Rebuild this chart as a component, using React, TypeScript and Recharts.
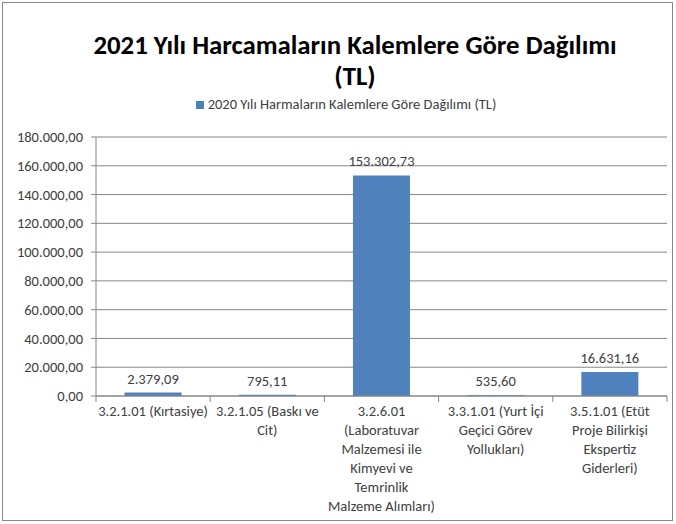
import React from "react";
import { BarChart, Bar, XAxis, YAxis, CartesianGrid, LabelList } from "recharts";

const categories: string[][] = [
  ["3.2.1.01 (Kırtasiye)"],
  ["3.2.1.05 (Baskı ve", "Cit)"],
  ["3.2.6.01", "(Laboratuvar", "Malzemesi ile", "Kimyevi ve", "Temrinlik", "Malzeme Alımları)"],
  ["3.3.1.01 (Yurt İçi", "Geçici Görev", "Yollukları)"],
  ["3.5.1.01 (Etüt", "Proje Bilirkişi", "Ekspertiz", "Giderleri)"],
];
const values: number[] = [2379.09, 795.11, 153302.73, 535.6, 16631.16];
const yTicks: number[] = [0, 20000, 40000, 60000, 80000, 100000, 120000, 140000, 160000, 180000];
const title = ["2021 Yılı Harcamaların Kalemlere Göre Dağılımı", "(TL)"];
const seriesName = "2020 Yılı Harmaların Kalemlere Göre Dağılımı (TL)";

const data = categories.map((c, i) => ({ key: String(i), lines: c, value: values[i] }));

const FONT = "Carlito, Calibri, Lato, sans-serif";
const W = 676;
const H = 524;
const LEFT = 96;
const RIGHT = 667;
const HALF_BAND = (RIGHT - LEFT) / categories.length / 2;

function fmt(v: number): string {
  const neg = v < 0;
  const abs = Math.abs(v);
  const fixed = abs.toFixed(2);
  const [intPart, dec] = fixed.split(".");
  const withDots = intPart.replace(/\B(?=(\d{3})+(?!\d))/g, ".");
  return (neg ? "-" : "") + withDots + "," + dec;
}

const CatTick = (props: any) => {
  const { x, y, payload, index } = props;
  const lines: string[] = data[Number(payload.value)]?.lines ?? [];
  return (
    <g>
      <line x1={x + HALF_BAND} y1={y - 8} x2={x + HALF_BAND} y2={y - 2} stroke="#868686" />
      {index === 0 && <line x1={x - HALF_BAND} y1={y - 8} x2={x - HALF_BAND} y2={y - 2} stroke="#868686" />}
      {lines.map((l, i) => (
        <text
          key={i}
          x={x}
          y={y + 12 + i * 19}
          textAnchor="middle"
          fontFamily={FONT}
          fontSize={14.5}
          fill="#404040"
        >
          {l}
        </text>
      ))}
    </g>
  );
};

export default function App() {
  return (
    <div style={{ position: "absolute", left: 0, top: 0, width: W, height: H, background: "#fff", fontFamily: FONT }}>
      <div
        style={{
          position: "absolute",
          left: 2,
          top: 2,
          width: 671,
          height: 519,
          border: "1px solid #868686",
          boxSizing: "border-box",
        }}
      />
      <div
        style={{
          position: "absolute",
          left: 17,
          top: 29,
          width: W,
          textAlign: "center",
          fontWeight: "bold",
          fontSize: 26.8,
          lineHeight: "31px",
          color: "#000",
        }}
      >
        <div>{title[0]}</div>
        <div>{title[1]}</div>
      </div>
      <div
        style={{
          position: "absolute",
          left: 8,
          top: 95,
          width: W,
          textAlign: "center",
          fontSize: 14.5,
          color: "#404040",
          lineHeight: "18px",
        }}
      >
        <span
          style={{
            display: "inline-block",
            width: 8,
            height: 8,
            background: "#4F81BD",
            marginRight: 4,
            verticalAlign: "middle",
            position: "relative",
            top: -1,
          }}
        />
        {seriesName}
      </div>
      <div style={{ position: "absolute", left: 0, top: 0 }}>
        <BarChart
          width={W}
          height={H}
          data={data}
          margin={{ top: 137, right: W - RIGHT, bottom: 10, left: 8 }}
          barCategoryGap="25%"
        >
          <CartesianGrid horizontal vertical={false} stroke="#868686" />
          <XAxis
            dataKey="key"
            height={118}
            tickLine={false}
            axisLine={{ stroke: "#868686" }}
            tick={<CatTick />}
            interval={0}
          />
          <YAxis
            width={88}
            domain={[0, 180000]}
            ticks={yTicks}
            tickFormatter={fmt}
            axisLine={{ stroke: "#868686" }}
            tickLine={{ stroke: "#868686" }}
            tickSize={5}
            tickMargin={8}
            tick={{ fontFamily: FONT, fontSize: 14.5, fill: "#404040" }}
          />
          <Bar dataKey="value" fill="#4F81BD" isAnimationActive={false}>
            <LabelList
              dataKey="value"
              position="top"
              offset={9}
              formatter={(v: any) => fmt(Number(v))}
              style={{ fontFamily: FONT, fontSize: 14.5, fill: "#404040" }}
            />
          </Bar>
        </BarChart>
      </div>
    </div>
  );
}
